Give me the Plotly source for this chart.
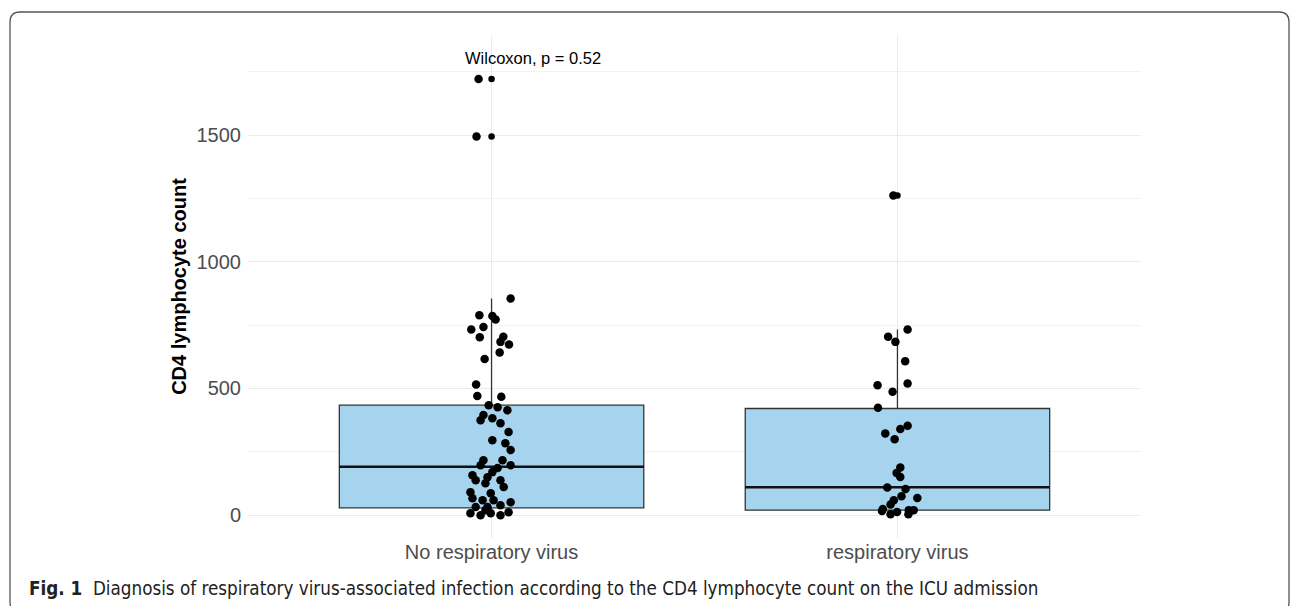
import plotly.graph_objects as go

# ---------------- data ----------------
categories = ["No respiratory virus", "respiratory virus"]

# box statistics per category
box_q1 = [29, 20]
box_median = [191, 110]
box_q3 = [434, 421]
box_lowerfence = [0, 0]
box_upperfence = [855, 733]

# boxplot outliers per category
outliers_no_virus = [1721, 1494]
outliers_virus = [1262]

# jittered observations (values) per category
values_no_virus = [
    1721, 1494,
    855, 789, 786, 772, 733, 743, 702, 704, 684, 674, 642, 616, 516, 470, 467,
    434, 426, 414, 395, 375, 383, 363, 328, 296, 284, 257, 217, 217, 197, 197,
    186, 170, 158, 150, 138, 138, 126, 111, 91, 87, 67, 59, 59, 51, 32, 32, 39,
    8, 0, 8, 0, 12, 20,
]
# horizontal jitter of each observation (category units)
jitter_no_virus = [
    -0.032, -0.037,
    0.047, -0.030, 0.002, 0.010, -0.050, -0.020, -0.029, 0.029, 0.022, 0.043,
    0.020, -0.017, -0.038, -0.035, 0.024,
    -0.007, 0.015, 0.039, -0.020, -0.027, 0.002, 0.022, 0.042, 0.002, 0.034,
    0.047, 0.027, -0.020, -0.027, 0.047, 0.015, 0.002, -0.047, -0.010, 0.022,
    -0.039, -0.015, 0.030, -0.052, -0.002, -0.047, -0.022, 0.005, 0.047,
    -0.039, -0.010, 0.022, -0.052, -0.027, -0.002, 0.022, 0.042, -0.015,
]

values_virus = [
    1262,
    733, 704, 684, 608, 513, 520, 487, 424, 322, 300, 340, 353, 188, 167, 151,
    109, 103, 68, 75, 59, 42, 24, 4, 13, 20, 20, 4, 17,
]
jitter_virus = [
    -0.010,
    0.025, -0.023, -0.005, 0.019, -0.049, 0.025, -0.012, -0.048, -0.030,
    -0.007, 0.007, 0.025, 0.007, -0.002, 0.007, -0.025, 0.020, 0.049, 0.010,
    -0.009, -0.017, -0.036, -0.017, -0.001, 0.028, 0.040, 0.027, -0.038,
]

test_label = "Wilcoxon, p = 0.52"
y_title = "CD4 lymphocyte count"
caption_bold = "Fig. 1"
caption_text = ("Diagnosis of respiratory virus-associated infection according "
                "to the CD4 lymphocyte count on the ICU admission")

# ---------------- styling ----------------
W, H = 1293, 606
ML, MR, MT, MB = 248, 152, 35, 68
BOX_W = 0.75
FILL = "#a6d3ee"
LINE = "#333333"
GRID = "#ebebeb"

positions = [1, 2]

fig = go.Figure()

for i, pos in enumerate(positions):
    fig.add_trace(go.Box(
        x=[pos], q1=[box_q1[i]], median=[box_median[i]], q3=[box_q3[i]],
        lowerfence=[box_lowerfence[i]], upperfence=[box_upperfence[i]],
        width=BOX_W, fillcolor=FILL, line=dict(color=LINE, width=1.3),
        whiskerwidth=0, boxpoints=False, showlegend=False, hoverinfo="skip",
    ))
    # thick median line (ggplot style)
    fig.add_trace(go.Scatter(
        x=[pos - BOX_W / 2, pos + BOX_W / 2],
        y=[box_median[i], box_median[i]],
        mode="lines", line=dict(color="#111111", width=2.6),
        showlegend=False, hoverinfo="skip",
    ))

# boxplot outliers (at category centre)
fig.add_trace(go.Scatter(
    x=[positions[0]] * len(outliers_no_virus) + [positions[1]] * len(outliers_virus),
    y=outliers_no_virus + outliers_virus,
    mode="markers", marker=dict(color="black", size=6.5),
    showlegend=False, hoverinfo="skip",
))

# jittered points
fig.add_trace(go.Scatter(
    x=[positions[0] + j for j in jitter_no_virus] + [positions[1] + j for j in jitter_virus],
    y=values_no_virus + values_virus,
    mode="markers", marker=dict(color="black", size=8.5),
    showlegend=False, hoverinfo="skip",
))

# test annotation
fig.add_annotation(
    x=0.93, y=1805, xref="x", yref="y", text=test_label, showarrow=False,
    xanchor="left", yanchor="middle",
    font=dict(family="Liberation Sans, Arial, sans-serif", size=16.5, color="black"),
)

# caption
plot_w = W - ML - MR
plot_h = H - MT - MB


def px_x(p):
    return (p - ML) / plot_w


def px_y(p):
    return (H - MB - p) / plot_h


fig.add_annotation(
    x=px_x(27), y=px_y(588), xref="paper", yref="paper",
    text=f"<b>{caption_bold}</b>  {caption_text}", showarrow=False,
    xanchor="left", yanchor="middle",
    font=dict(family="Liberation Sans Narrow, DejaVu Sans Condensed, sans-serif",
              size=18.7, color="#222222"),
)

# rounded frame around the figure (bottom edge lies just below the page)
x0, x1, y0, y1, r = 10, 1289, 12, 612, 10
rx = r / plot_w
ry = r / plot_h
X0, X1, Y0, Y1 = px_x(x0), px_x(x1), px_y(y0), px_y(y1)
path = (f"M {X0 + rx},{Y0} L {X1 - rx},{Y0} Q {X1},{Y0} {X1},{Y0 - ry} "
        f"L {X1},{Y1 + ry} Q {X1},{Y1} {X1 - rx},{Y1} "
        f"L {X0 + rx},{Y1} Q {X0},{Y1} {X0},{Y1 + ry} "
        f"L {X0},{Y0 - ry} Q {X0},{Y0} {X0 + rx},{Y0} Z")
fig.add_shape(type="path", path=path, xref="paper", yref="paper",
              line=dict(color="#555555", width=1.3), layer="above")

fig.update_layout(
    width=W, height=H,
    margin=dict(l=ML, r=MR, t=MT, b=MB),
    paper_bgcolor="white", plot_bgcolor="white",
    font=dict(family="Liberation Sans, Arial, sans-serif"),
    xaxis=dict(
        range=[0.4, 2.6], tickvals=positions, ticktext=categories,
        showgrid=True, gridcolor=GRID, gridwidth=1.3, zeroline=False,
        showline=False, ticks="",
        tickfont=dict(size=20, color="#4d4d4d"),
    ),
    yaxis=dict(
        range=[-90, 1895], tickvals=[0, 500, 1000, 1500],
        showgrid=True, gridcolor=GRID, gridwidth=1.3, zeroline=False,
        showline=False, ticks="", ticklabelstandoff=6,
        tickfont=dict(size=20, color="#4d4d4d"),
        minor=dict(tickvals=[250, 750, 1250, 1750], showgrid=True,
                   gridcolor="#f2f2f2", gridwidth=0.9),
        title=dict(text=f"<b>{y_title}</b>", standoff=4,
                   font=dict(size=20, color="black")),
    ),
)

fig.write_html("out.html", config={"displayModeBar": False},
               post_script="document.body.style.margin='0';document.body.style.overflow='hidden';")
